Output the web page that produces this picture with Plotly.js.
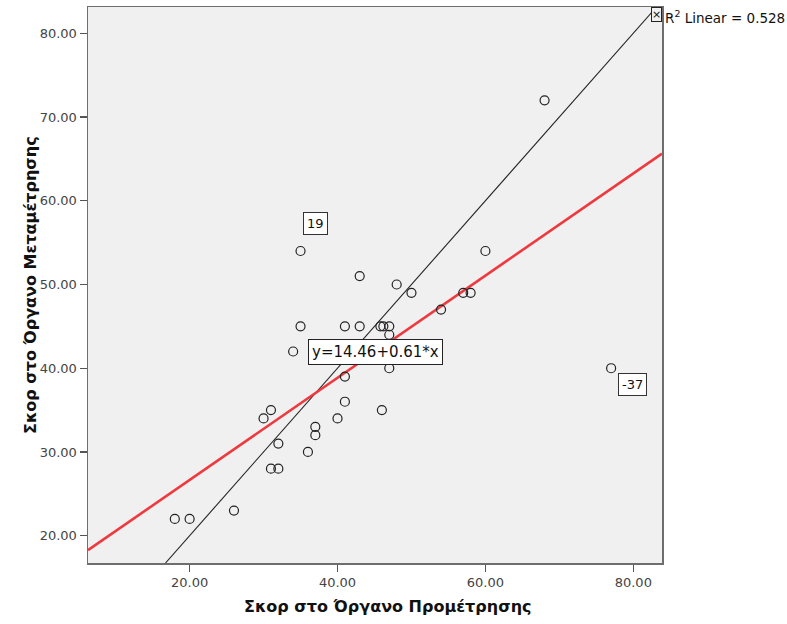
<!DOCTYPE html>
<html>
<head>
<meta charset="utf-8">
<script src="https://cdn.plot.ly/plotly-3.0.1.min.js"></script>
<style>
  html, body { margin: 0; padding: 0; background: #ffffff; }
  #chart { width: 787px; height: 624px; }
</style>
</head>
<body>
<div id="chart"></div>
<script>
// Scores: pre-measurement (x) vs post-measurement (y)
var preScores  = [18, 20, 26, 30, 31, 31, 32, 32, 34, 35, 35, 36, 37, 37, 40, 41, 41, 41, 43, 43, 45.8, 46.2, 47, 47, 47, 46, 48, 50, 54, 57, 58, 60, 68, 77];
var postScores = [22, 22, 23, 34, 35, 28, 28, 31, 42, 45, 54, 30, 33, 32, 34, 36, 39, 45, 51, 45, 45, 45, 45, 44, 40, 35, 50, 49, 47, 49, 49, 54, 72, 40];

var fitIntercept = 14.46;
var fitSlope = 0.61;
var rSquared = 0.528;

var xTickVals = [20, 40, 60, 80];
var yTickVals = [20, 30, 40, 50, 60, 70, 80];

var xRange = [6.26, 83.88];
var yRange = [16.74, 83.14];

var caseLabels = ['19', '-37'];
var caseLabelPos = [[37.05, 57.3], [79.9, 38.08]];

var fitX = [xRange[0], xRange[1]];
var fitY = fitX.map(function (v) { return fitIntercept + fitSlope * v; });
var refLo = Math.max(xRange[0], yRange[0]);
var refHi = Math.min(xRange[1], yRange[1]);

var font = 'DejaVu Sans, Verdana, sans-serif';

var traces = [
  {
    x: [refLo, refHi], y: [refLo, refHi],
    mode: 'lines', type: 'scatter',
    line: { color: '#222222', width: 1.1 },
    hoverinfo: 'skip'
  },
  {
    x: fitX, y: fitY,
    mode: 'lines', type: 'scatter',
    line: { color: '#ee3a3f', width: 2.6 },
    hoverinfo: 'skip'
  },
  {
    x: preScores, y: postScores,
    mode: 'markers', type: 'scatter',
    marker: { symbol: 'circle-open', size: 9, color: '#222222', line: { width: 1.2, color: '#222222' } }
  }
];

var annotations = [
  {
    xref: 'paper', yref: 'paper', x: 0.5226, y: -0.079,
    xanchor: 'center', yanchor: 'middle', showarrow: false,
    text: 'Σκορ στο Όργανο Προμέτρησης',
    font: { family: font, size: 16, color: '#111111', weight: 'bold' }
  },
  {
    xref: 'paper', yref: 'paper', x: -0.101, y: 0.5,
    xanchor: 'center', yanchor: 'middle', showarrow: false, textangle: -90,
    text: 'Σκορ στο Όργανο Μεταμέτρησης',
    font: { family: font, size: 16, color: '#111111', weight: 'bold' }
  },
  {
    xref: 'paper', yref: 'paper', x: 0.5, y: 0.3795,
    xanchor: 'center', yanchor: 'middle', showarrow: false,
    text: 'y=' + fitIntercept.toFixed(2) + '+' + fitSlope.toFixed(2) + '*x',
    font: { family: font, size: 15, color: '#111111' },
    bgcolor: '#ffffff', bordercolor: '#222222', borderwidth: 1, borderpad: 3
  },
  {
    xref: 'paper', yref: 'paper', x: 1.0, y: 1.0,
    xanchor: 'right', yanchor: 'top', showarrow: false,
    text: '×',
    font: { family: font, size: 11, color: '#111111' },
    bgcolor: '#f0f0f0', bordercolor: '#222222', borderwidth: 1, borderpad: 0
  },
  {
    xref: 'paper', yref: 'paper', x: 1.002, y: 0.9815,
    xanchor: 'left', yanchor: 'middle', showarrow: false,
    text: 'R<sup>2</sup> Linear = ' + rSquared.toFixed(3),
    font: { family: font, size: 13.5, color: '#111111' }
  }
];

caseLabels.forEach(function (lab, i) {
  annotations.push({
    xref: 'x', yref: 'y', x: caseLabelPos[i][0], y: caseLabelPos[i][1],
    xanchor: 'center', yanchor: 'middle', showarrow: false,
    text: lab,
    font: { family: font, size: 13, color: '#111111' },
    bgcolor: '#ffffff', bordercolor: '#333333', borderwidth: 1, borderpad: 3
  });
});

var layout = {
  width: 787, height: 624,
  margin: { l: 88, r: 125, t: 7, b: 61, pad: 0 },
  paper_bgcolor: '#ffffff',
  plot_bgcolor: '#f0f0f0',
  showlegend: false,
  font: { family: font, size: 13, color: '#333333' },
  xaxis: {
    range: xRange, tickvals: xTickVals,
    ticktext: xTickVals.map(function (v) { return v.toFixed(2); }),
    showgrid: false, zeroline: false,
    showline: true, linecolor: '#6e6e6e', linewidth: 1.5, mirror: true,
    ticks: 'outside', ticklen: 7, tickwidth: 1.3, tickcolor: '#555555',
    tickfont: { family: font, size: 13, color: '#444444' }
  },
  yaxis: {
    range: yRange, tickvals: yTickVals,
    ticktext: yTickVals.map(function (v) { return v.toFixed(2); }),
    showgrid: false, zeroline: false,
    showline: true, linecolor: '#6e6e6e', linewidth: 1.5, mirror: true,
    ticks: 'outside', ticklen: 7, tickwidth: 1.3, tickcolor: '#555555',
    tickfont: { family: font, size: 13, color: '#444444' }
  },
  annotations: annotations
};

Plotly.newPlot('chart', traces, layout, { displayModeBar: false, staticPlot: true });
</script>
</body>
</html>
